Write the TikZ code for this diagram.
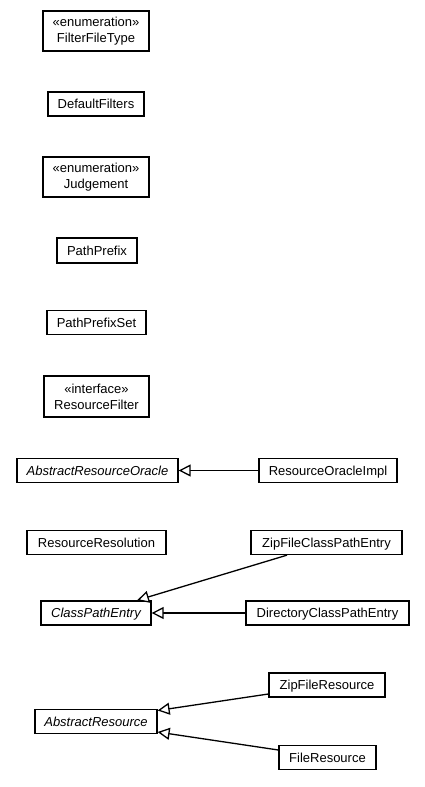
\documentclass[tikz,border=0pt]{standalone}
\usepackage{fontspec}
\setmainfont{Liberation Sans}
\usetikzlibrary{arrows.meta}
\begin{document}
\begin{tikzpicture}[x=1pt,y=-1pt,
  cls/.style={draw=black,line width=1.3pt,fill=white,inner sep=0pt,align=center,
    font=\fontsize{13}{16}\selectfont,minimum height=24pt},
  one/.style={text height=11pt,text depth=2pt},
  cls2/.style={cls,minimum height=40pt},
  abs/.style={cls,one,font=\fontsize{13}{16}\selectfont\itshape},
  gen/.style={draw=black,line width=1.3pt,-{Triangle[open,length=12pt,width=12pt,fill=white]}}]
\useasboundingbox (0,0) rectangle (425,787);
\node[cls2,minimum width=106pt] (fft) at (96,31) {«enumeration»\\FilterFileType};
\node[cls,one,minimum width=96pt] (df) at (96,104) {DefaultFilters};
\node[cls2,minimum width=106pt] (jd) at (96,177) {«enumeration»\\Judgement};
\node[cls,one,minimum width=80pt,minimum height=25pt] (pp) at (97,250.5) {PathPrefix};
\node[cls,one,minimum width=99pt] (pps) at (96.5,322.5) {PathPrefixSet};
\node[cls2,minimum width=105pt,minimum height=41pt] (rf) at (96.5,396.5) {«interface»\\ResourceFilter};
\node[abs,minimum width=161pt] (aro) at (97.5,470.5) {AbstractResourceOracle};
\node[cls,one,minimum width=138pt] (roi) at (328,470.5) {ResourceOracleImpl};
\node[cls,one,minimum width=139pt] (rr) at (96.5,542.5) {ResourceResolution};
\node[cls,one,minimum width=151pt] (zcpe) at (326.5,542.5) {ZipFileClassPathEntry};
\node[abs,minimum width=110pt] (cpe) at (96,613) {ClassPathEntry};
\node[cls,one,minimum width=163pt] (dcpe) at (327.5,613) {DirectoryClassPathEntry};
\node[abs,minimum width=122pt] (ar) at (96,721.5) {AbstractResource};
\node[cls,one,minimum width=116pt] (zfr) at (327,685) {ZipFileResource};
\node[cls,one,minimum width=97pt] (fr) at (327.5,757.5) {FileResource};
\draw[gen] (roi.west) -- (aro.east);
\draw[gen] ([xshift=-39.5pt]zcpe.south) -- ([xshift=41pt]cpe.north);
\draw[gen] (dcpe.west) -- (cpe.east);
\draw[gen] ([yshift=-9pt]zfr.west) -- ([yshift=11pt]ar.east);
\draw[gen] ([yshift=7.5pt]fr.west) -- ([yshift=-10.5pt]ar.east);
\end{tikzpicture}
\end{document}
